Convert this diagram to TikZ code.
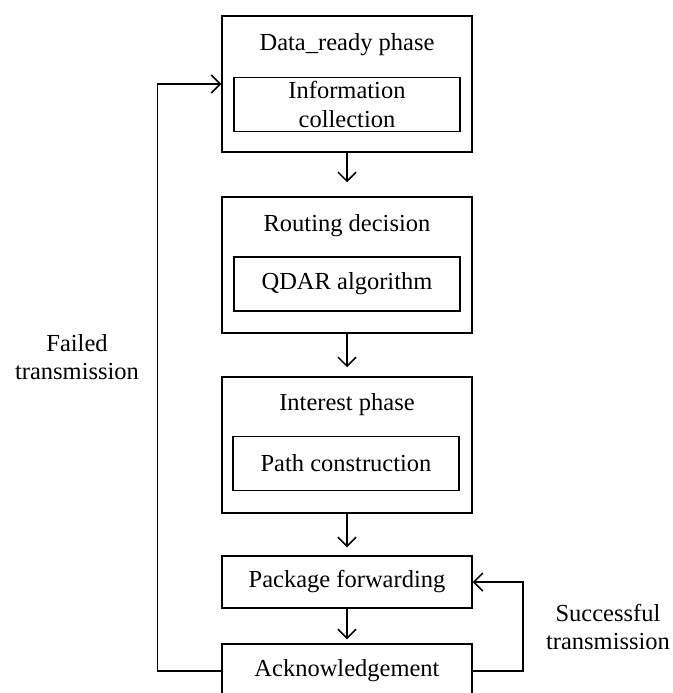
\documentclass[tikz,border=0pt]{standalone}
\usepackage{fontspec}
\setmainfont{Liberation Serif}
\usetikzlibrary{arrows.meta}
\begin{document}
\begin{tikzpicture}[x=1pt,y=-1pt,
  every node/.style={font=\fontsize{24.5}{28.5}\selectfont, inner sep=0pt},
  outerbox/.style={draw, line width=1.5pt, minimum width=250pt, minimum height=136pt},
  innerbox/.style={draw, line width=1.5pt, minimum width=226pt, minimum height=54pt, align=center},
  plainbox/.style={draw, line width=1.5pt, minimum width=250pt, minimum height=52pt},
  conn/.style={line width=1.5pt, -{Straight Barb[length=9pt,width=18pt,line width=1.5pt]}},
  lbl/.style={align=center}]
\clip (0,0) rectangle (672,693);
% phase 1
\node[outerbox] (b1) at (347,84) {};
\node (t1) at (347,45) {Data\_ready phase};
\node[innerbox] (i1) at (347,104.5) {Information\\collection};
% phase 2
\node[outerbox] (b2) at (347,265) {};
\node (t2) at (347,226) {Routing decision};
\node[innerbox] (i2) at (347,284) {QDAR algorithm};
% phase 3
\node[outerbox] (b3) at (347,445) {};
\node (t3) at (347,405) {Interest phase};
\node[innerbox] (i3) at (346,463.5) {Path construction};
% package forwarding, acknowledgement
\node[plainbox] (pf) at (347,582) {Package forwarding};
\node[plainbox, minimum height=70pt] (ack) at (347,679) {};
\node (ackt) at (347,671) {Acknowledgement};
% labels
\node[lbl] (fail) at (77,357) {Failed\\transmission};
\node[lbl] (succ) at (608,627) {Successful\\transmission};
% connectors
\coordinate (ackw) at (ack.west |- ackt);
\coordinate (acke) at (ack.east |- ackt);
\draw[conn, shorten >=14pt] (b1.south) -- (b2.north);
\draw[conn, shorten >=9pt] (b2.south) -- (b3.north);
\draw[conn, shorten >=8pt] (b3.south) -- (pf.north);
\draw[conn, shorten >=4pt] (pf.south) -- (ack.north);
\draw[conn] (ackw) -- ++(-64,0) |- (b1.west);
\draw[conn] (acke) -- ++(50,0) |- (pf.east);
\end{tikzpicture}
\end{document}
